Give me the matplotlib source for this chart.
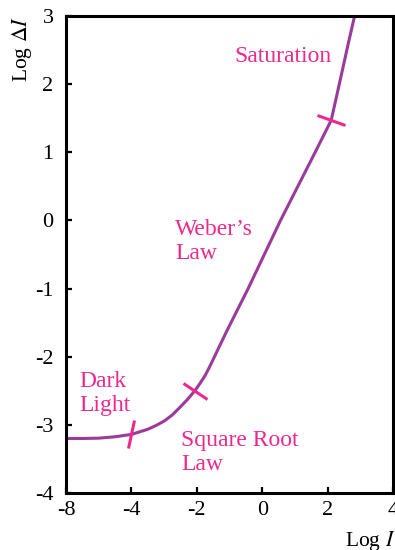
import numpy as np
import matplotlib.pyplot as plt
from matplotlib.markers import MarkerStyle
from matplotlib.transforms import Affine2D

plt.rcParams['font.family'] = ['Liberation Serif', 'DejaVu Serif']
plt.rcParams['mathtext.fontset'] = 'stix'
plt.rcParams['axes.unicode_minus'] = False

# threshold-versus-intensity curve (log units)
log_i = [-8, -7, -6, -5, -4, -3.5, -3.25, -3, -2.75, -2.5, -2.3, -2.06, -1.9,
         -1.75, -1.6, -1.45, -1.09, -0.43, 0.56, 1.62, 2.11, 2.26, 2.45, 2.62, 2.82]
log_di = [-3.2, -3.2, -3.195, -3.175, -3.14, -3.065, -3.01, -2.945, -2.855, -2.735,
          -2.635, -2.5, -2.39, -2.28, -2.14, -1.99, -1.63, -1.0, 0.0, 1.0, 1.47,
          1.79, 2.2, 2.57, 2.99]

# boundaries between the regimes
bound_x = [-4, -2.06, 2.11]
bound_y = [-3.14, -2.5, 1.47]
bound_angle = [-12, 57, 68]

xticks = [-8, -4, -2, 0, 2, 4]
yticks = [-4, -3, -2, -1, 0, 1, 2, 3]

regions = ['Saturation', 'Weber\u2019s\nLaw', 'Dark\nLight', 'Square Root\nLaw']
region_x = [-0.86, -2.66, -7.17, -2.48]
region_y = [2.40, -0.31, -2.54, -3.41]

curve_color = '#9b3a9b'
label_color = '#ec2a8c'


def fwd(x):
    x = np.asarray(x, dtype=float)
    return np.where(x < -4, -4 + (x + 4) / 2, x)


def inv(p):
    p = np.asarray(p, dtype=float)
    return np.where(p < -4, -4 + (p + 4) * 2, p)


fig = plt.figure(figsize=(3.95, 5.5), dpi=100)
ax = fig.add_axes([0.167, 0.1036, 0.828, 0.8674])
ax.set_xscale('function', functions=(fwd, inv))
ax.set_xlim(-8, 4)
ax.set_ylim(-4, 3)

ax.plot(log_i, log_di, color=curve_color, lw=2.2, solid_joinstyle='round', zorder=2)

for bx, by, ang in zip(bound_x, bound_y, bound_angle):
    m = MarkerStyle('|', transform=Affine2D().rotate_deg(ang))
    ax.plot([bx], [by], marker=m, ms=21, mew=2.2, color=label_color, zorder=3)

for txt, tx, ty in zip(regions, region_x, region_y):
    ax.text(tx, ty, txt, color=label_color, fontsize=17, ha='left', va='center',
            linespacing=1.2)

ax.set_xticks(xticks)
ax.set_xticklabels([str(v) for v in xticks])
ax.set_yticks(yticks)
ax.set_yticklabels([str(v) for v in yticks])
ax.tick_params(direction='in', length=4, width=1.6, labelsize=16)
ax.tick_params(axis='x', pad=6)
ax.tick_params(axis='y', pad=9)
for s in ax.spines.values():
    s.set_linewidth(2.2)

ax.text(-0.135, 1.0, r'Log $\Delta I$', transform=ax.transAxes, rotation=90,
        ha='center', va='top', fontsize=15.5)
ax.text(1.006, -0.1, r'Log $I$', transform=ax.transAxes,
        ha='right', va='center', fontsize=15.5)

fig.savefig('out.png', dpi=100)
